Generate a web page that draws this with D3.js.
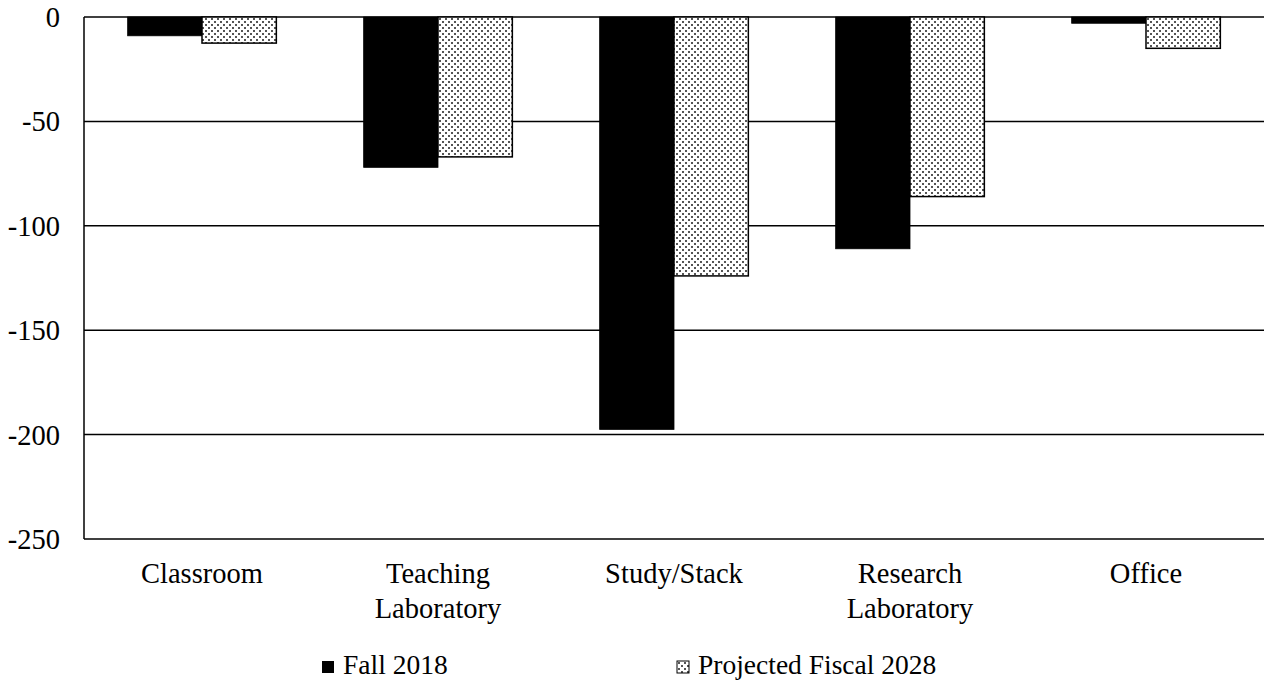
<!DOCTYPE html>
<html>
<head>
<meta charset="utf-8">
<script src="https://cdn.jsdelivr.net/npm/d3@7"></script>
<style>
  body { margin: 0; background: #fff; }
  svg { display: block; font-family: 'Liberation Serif', 'Times New Roman', serif; }
</style>
</head>
<body>
<svg id="chart" width="1265" height="687"></svg>
<script>
// chart data
const categories = [['Classroom'], ['Teaching', 'Laboratory'], ['Study/Stack'], ['Research', 'Laboratory'], ['Office']];
const seriesNames = ['Fall 2018', 'Projected Fiscal 2028'];
const fall2018 = [-9, -72, -197.5, -111, -3];
const projected2028 = [-12.5, -67, -124, -86, -15];
const yTicks = [0, -50, -100, -150, -200, -250];

const svg = d3.select('#chart');
const margin = { top: 17, right: 1, bottom: 148, left: 84 };
const width = 1265 - margin.left - margin.right;
const height = 687 - margin.top - margin.bottom;
const fontSize = 28.5;

const defs = svg.append('defs');
const pat = defs.append('pattern')
  .attr('id', 'dots')
  .attr('patternUnits', 'userSpaceOnUse')
  .attr('width', 6)
  .attr('height', 6);
pat.append('rect').attr('width', 6).attr('height', 6).attr('fill', '#fff');
pat.append('rect').attr('x', 1).attr('y', 1).attr('width', 2).attr('height', 2).attr('fill', '#555');
pat.append('rect').attr('x', 4).attr('y', 4).attr('width', 2).attr('height', 2).attr('fill', '#555');

const g = svg.append('g').attr('transform', `translate(${margin.left},${margin.top})`);

const x0 = d3.scaleBand()
  .domain(d3.range(categories.length))
  .range([0, width])
  .paddingInner(0.37)
  .paddingOuter(0.185);

const x1 = d3.scaleBand()
  .domain([0, 1])
  .range([0, x0.bandwidth()]);

const y = d3.scaleLinear().domain([-250, 0]).range([height, 0]);

// gridlines
g.append('g')
  .selectAll('line')
  .data(yTicks)
  .join('line')
  .attr('x1', 0)
  .attr('x2', width)
  .attr('y1', d => y(d))
  .attr('y2', d => y(d))
  .attr('stroke', '#000')
  .attr('stroke-width', 1.5);

// y tick labels
g.append('g')
  .selectAll('text')
  .data(yTicks)
  .join('text')
  .attr('x', -24)
  .attr('y', d => y(d))
  .attr('dy', '0.35em')
  .attr('text-anchor', 'end')
  .attr('font-size', fontSize)
  .text(d => d === 0 ? '0' : String(d));

const seriesData = [fall2018, projected2028];

seriesData.forEach((vals, si) => {
  g.append('g')
    .selectAll('rect')
    .data(vals)
    .join('rect')
    .attr('x', (d, i) => x0(i) + x1(si))
    .attr('y', y(0))
    .attr('width', x1.bandwidth())
    .attr('height', d => y(d) - y(0))
    .attr('fill', si === 0 ? '#000' : 'url(#dots)')
    .attr('stroke', '#000')
    .attr('stroke-width', si === 0 ? 0.8 : 1.5);
});

// axis lines
g.append('line')
  .attr('x1', 0).attr('x2', 0)
  .attr('y1', 0).attr('y2', height)
  .attr('stroke', '#000').attr('stroke-width', 1.5);

// category labels
const cat = g.append('g')
  .selectAll('text')
  .data(categories)
  .join('text')
  .attr('x', (d, i) => x0(i) + x0.bandwidth() / 2)
  .attr('y', height + 44)
  .attr('text-anchor', 'middle')
  .attr('font-size', fontSize);
cat.selectAll('tspan')
  .data(d => d)
  .join('tspan')
  .attr('x', function () { return d3.select(this.parentNode).attr('x'); })
  .attr('dy', (d, i) => i === 0 ? 0 : 35)
  .text(d => d);

// legend
const legendX = [322, 677];
const legend = svg.append('g')
  .selectAll('g')
  .data(seriesNames)
  .join('g')
  .attr('transform', (d, i) => `translate(${legendX[i]},661)`);
legend.append('rect')
  .attr('width', 12)
  .attr('height', 12)
  .attr('fill', (d, i) => i === 0 ? '#000' : 'url(#dots)')
  .attr('stroke', '#000')
  .attr('stroke-width', (d, i) => i === 0 ? 0 : 1);
legend.append('text')
  .attr('x', 21)
  .attr('y', 13)
  .attr('font-size', 27.5)
  .text(d => d);
</script>
</body>
</html>
